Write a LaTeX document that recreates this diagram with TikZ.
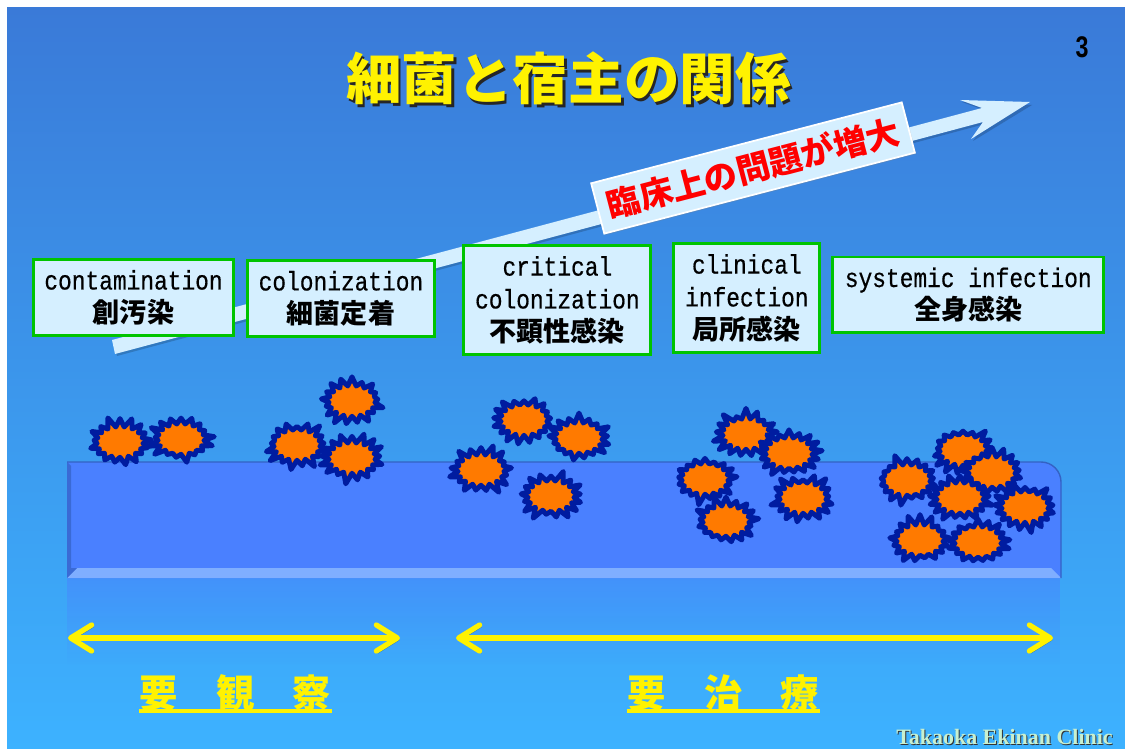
\documentclass[tikz,border=0pt]{standalone}
\usepackage{fontspec}
\usepackage{xcolor}
\usepackage{tikz}
\usetikzlibrary{arrows.meta, positioning, shapes.symbols, shadows, fadings}
\setmainfont{Liberation Sans}
\newfontfamily\jpfont{Noto Sans CJK JP}
\newfontfamily\boxfont[FakeStretch=0.85, FakeBold=0.5]{Liberation Mono}
\newfontfamily\clinicfont{Liberation Serif}
\newcommand{\stagejp}{\jpfont\bfseries\fontsize{15.4}{18.7}\selectfont}
\definecolor{skytop}{RGB}{58, 122, 216}
\definecolor{skybottom}{RGB}{61, 178, 255}
\definecolor{panelbg}{RGB}{213, 239, 255}
\definecolor{panelborder}{RGB}{0, 196, 0}
\definecolor{plate}{RGB}{74, 128, 255}
\definecolor{platelight}{RGB}{127, 174, 255}
\definecolor{platedark}{RGB}{52, 98, 196}
\definecolor{germfill}{RGB}{255, 122, 0}
\definecolor{germline}{RGB}{0, 28, 160}
\definecolor{clinicgreen}{RGB}{200, 240, 208}
\tikzset{
  stageblock/.style={
    rectangle, draw=panelborder, fill=panelbg, line width=1.7pt,
    align=center, inner sep=0pt, text=black,
    font=\boxfont\fontsize{15.3}{18.7}\selectfont
  },
  germ/.style={
    starburst, starburst points=17, starburst point height=0.22cm,
    draw=germline, fill=germfill, line width=2.8pt, line join=round,
    minimum width=1.36cm, minimum height=1.05cm, inner sep=0pt
  },
  titletext/.style={font=\jpfont\bfseries\fontsize{31.6}{36}\selectfont, text=yellow, inner sep=0pt},
  careline/.style={
    draw=yellow, line width=3pt, line cap=round,
    {Straight Barb[length=4.2mm, width=5.2mm, line width=3pt, round]}-{Straight Barb[length=4.2mm, width=5.2mm, line width=3pt, round]},
    preaction={draw=black, opacity=0.25, transform canvas={shift={(1pt,-1.2pt)}}}
  },
  caretext/.style={font=\jpfont\bfseries\fontsize{21.8}{26}\selectfont, text=yellow, inner sep=0pt},
  cliniclabel/.style={font=\clinicfont\bfseries\fontsize{12.5}{14}\selectfont, inner sep=0pt}
}
\begin{document}
\begin{tikzpicture}[x=0.02cm, y=-0.02cm]
  \useasboundingbox (0,0) rectangle (1125,749);

  % Slide background
  \fill[white] (0,0) rectangle (1125,749);
  \shade[top color=skytop, bottom color=skybottom, shading angle=0] (7,8) rectangle (1125,749);

  % Bed with bevelled edges
  \fill[plate] (67,578) -- (67,462) [rounded corners=0.4cm] -- (1061,462) [sharp corners] -- (1061,578) -- cycle;
  \fill[platelight] (67,578) -- (77,568) -- (1051,568) -- (1061,578) -- cycle;
  \fill[platedark, opacity=0.7] (67,578) -- (67,462) -- (71,466) -- (71,568) -- (77,568) -- cycle;
  \draw[platedark, line width=0.8pt] (67,462) [rounded corners=0.4cm] -- (1061,462) [sharp corners] -- (1061,578);
  \fill[plate, opacity=0.5, path fading=south] (67,578) rectangle (1061,665);

  % Rising arrow and its banner
  \fill[black, opacity=0.18] (114,342) -- (984,110) -- (962,102) -- (1032,105) -- (973,141) -- (985,124) -- (117,356) -- cycle;
  \fill[panelbg] (112,340) -- (982,108) -- (960,100) -- (1030,102) -- (971,139) -- (983,122) -- (115,354) -- cycle;
  \node[rectangle, rotate=14.6, fill=panelbg, draw=white, line width=1pt, minimum width=6.42cm, minimum height=1.04cm, inner sep=0pt,
    text=red, font=\jpfont\bfseries\fontsize{19}{22}\selectfont,
    drop shadow={shadow xshift=0.8pt, shadow yshift=-0.8pt, opacity=0.3}] (banner) at (753,168) {臨床上の問題が増大};

  % Title and page number
  \node[titletext, text=black!85] (titleback) at (571,81) {細菌と宿主の関係};
  \node[titletext] (title) at (568.5,78) {細菌と宿主の関係};
  \node[inner sep=0pt, text=black, xscale=0.78, font=\bfseries\fontsize{17}{20}\selectfont] (pageno) at (1082,47) {3};

  % Infection stages
  \node[stageblock, minimum width=4.0cm, minimum height=1.52cm] (contam) at (133.5,297.5) {contamination\\{\stagejp 創汚染}};
  \node[stageblock, right=0.22cm of contam, minimum width=3.74cm, minimum height=1.52cm, yshift=-0.02cm] (colon) {colonization\\{\stagejp 細菌定着}};
  \node[stageblock, right=0.53cm of colon, minimum width=3.74cm, minimum height=2.18cm, yshift=-0.03cm] (critical) {critical\\colonization\\{\stagejp 不顕性感染}};
  \node[stageblock, right=0.4cm of critical, minimum width=2.92cm, minimum height=2.18cm, yshift=0.04cm] (clinical) {clinical\\infection\\{\stagejp 局所感染}};
  \node[stageblock, right=0.2cm of clinical, minimum width=5.42cm, minimum height=1.52cm, yshift=0.06cm] (systemic) {systemic infection\\{\stagejp 全身感染}};

  % Bacteria, one cluster per stage
  \node[germ, random starburst=11] (gA) at (120,442) {};
  \node[germ, random starburst=12] (gB) at (181,439) {};

  \node[germ, random starburst=13] (gC) at (297,445) {};
  \node[germ, random starburst=14] (gD) at (352,401) {};
  \node[germ, random starburst=15] (gE) at (352,458) {};

  \node[germ, random starburst=16] (gF) at (524,420) {};
  \node[germ, random starburst=17] (gG) at (579,438) {};
  \node[germ, random starburst=18] (gH) at (481,470) {};
  \node[germ, random starburst=19] (gI) at (551,496) {};

  \node[germ, random starburst=20] (gJ) at (746,434) {};
  \node[germ, random starburst=21] (gK) at (789,453) {};
  \node[germ, random starburst=22] (gL) at (705,479) {};
  \node[germ, random starburst=23] (gM) at (803,498) {};
  \node[germ, random starburst=24] (gN) at (726,521) {};

  \node[germ, random starburst=25] (gO) at (907,480) {};
  \node[germ, random starburst=26] (gP) at (963,450) {};
  \node[germ, random starburst=27] (gQ) at (992,472) {};
  \node[germ, random starburst=28] (gR) at (960,498) {};
  \node[germ, random starburst=29] (gS) at (1025,507) {};
  \node[germ, random starburst=30] (gT) at (920,540) {};
  \node[germ, random starburst=31] (gU) at (978,542) {};

  % Care ranges
  \coordinate (watchL) at (68,638);
  \coordinate (watchR) at (400,638);
  \coordinate (treatL) at (456,638);
  \coordinate (treatR) at (1053,638);
  \draw[careline] (watchL) -- (watchR);
  \draw[careline] (treatL) -- (treatR);

  \node[caretext] (watch) at (235.5,693) {要　観　察};
  \node[caretext] (treat) at (723.5,693) {要　治　療};
  \draw[yellow, line width=2pt] (139,711) -- (332,711);
  \draw[yellow, line width=2pt] (627,711) -- (820,711);

  % Clinic name
  \node[cliniclabel, text=black!80] (clinicback) at (1005.5,737.5) {Takaoka Ekinan Clinic};
  \node[cliniclabel, text=clinicgreen] (clinic) at (1004.5,736.5) {Takaoka Ekinan Clinic};
\end{tikzpicture}
\end{document}
